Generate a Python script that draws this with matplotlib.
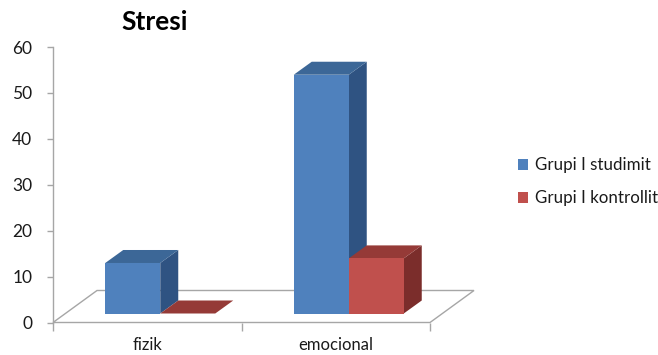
import matplotlib
matplotlib.use("Agg")
import matplotlib.pyplot as plt
from matplotlib.patches import Polygon, Patch
import numpy as np

plt.rcParams['font.family'] = ['Lato', 'DejaVu Sans']

# Data
categories = ["fizik", "emocional"]
series_names = ["Grupi I studimit", "Grupi I kontrollit"]
studimit = [11, 52]
kontrollit = [0, 12]
y_ticks = [0, 10, 20, 30, 40, 50, 60]

# Colours (front, top, side)
blue = ("#4F81BD", "#3C6797", "#2F5382")
red = ("#C0504D", "#953A37", "#7B2D2B")

W, H = 658, 355
fig = plt.figure(figsize=(W / 100, H / 100), dpi=100)
ax = fig.add_axes([53 / W, 1 - 322.5 / H, 377 / W, 275.5 / H])
ax.set_xlim(-0.5, 1.5)
ax.set_ylim(0, 60)

# pixel -> data unit conversion for the oblique depth offsets
sx = (1.5 - (-0.5)) / 377.0
sy = 60 / 275.5


def off(dx_px, dy_px):
    return dx_px * sx, dy_px * sy


# floor parallelogram
fdx, fdy = off(44, 32)
floor = Polygon([(-0.5, 0), (1.5, 0), (1.5 + fdx, fdy), (-0.5 + fdx, fdy)],
                closed=True, facecolor="white", edgecolor="#A6A6A6",
                linewidth=1.0, clip_on=False, zorder=1)
ax.add_patch(floor)

bar_w = 55 * sx
front_dx, front_dy = off(13, 9)
dep_dx, dep_dy = off(18, 13)


def draw_bar(xl, v, cols):
    x0 = xl + front_dx
    x1 = x0 + bar_w
    y0 = front_dy
    y1 = front_dy + v
    # side face
    side = Polygon([(x1, y0), (x1 + dep_dx, y0 + dep_dy),
                    (x1 + dep_dx, y1 + dep_dy), (x1, y1)],
                   closed=True, facecolor=cols[2], edgecolor="none",
                   clip_on=False, zorder=3)
    ax.add_patch(side)
    # top face
    top = Polygon([(x0, y1), (x1, y1), (x1 + dep_dx, y1 + dep_dy),
                   (x0 + dep_dx, y1 + dep_dy)],
                  closed=True, facecolor=cols[1], edgecolor="none",
                  clip_on=False, zorder=3)
    ax.add_patch(top)
    # front face
    if v > 0:
        ax.bar(x0, v, width=bar_w, bottom=y0, align="edge", color=cols[0],
               edgecolor="none", clip_on=False, zorder=3)


x = np.arange(len(categories))
for i in range(len(categories)):
    draw_bar(x[i] - bar_w, studimit[i], blue)
    draw_bar(x[i], kontrollit[i], red)

# axes styling
for s in ["top", "right", "bottom"]:
    ax.spines[s].set_visible(False)
ax.spines["left"].set_color("#A6A6A6")
ax.spines["left"].set_linewidth(1.0)
ax.set_yticks(y_ticks)
ax.tick_params(axis="y", length=4, width=1, color="#A6A6A6", pad=11,
               labelsize=12.5, labelcolor="#1A1A1A")
ax.set_xticks(x)
ax.set_xticklabels(categories)
ax.set_xticks([-0.5, 0.5, 1.5], minor=True)
ax.tick_params(axis="x", which="major", length=0, pad=10.5, labelsize=12,
               labelcolor="#1A1A1A")
ax.tick_params(axis="x", which="minor", length=6, width=1, color="#A6A6A6")
ax.patch.set_visible(False)

fig.text(155 / W, 1 - 22 / H, "Stresi", ha="center", va="center",
         fontsize=19, fontweight="bold", color="black")

handles = [Patch(facecolor=blue[0]), Patch(facecolor=red[0])]
fig.legend(handles, series_names, loc="upper left",
           bbox_to_anchor=(503 / W, 1 - 142 / H), frameon=False,
           fontsize=12.2, handlelength=0.6, handleheight=0.6,
           handletextpad=0.4, labelspacing=1.0, labelcolor="#1A1A1A")

fig.savefig("out.png", dpi=100)
